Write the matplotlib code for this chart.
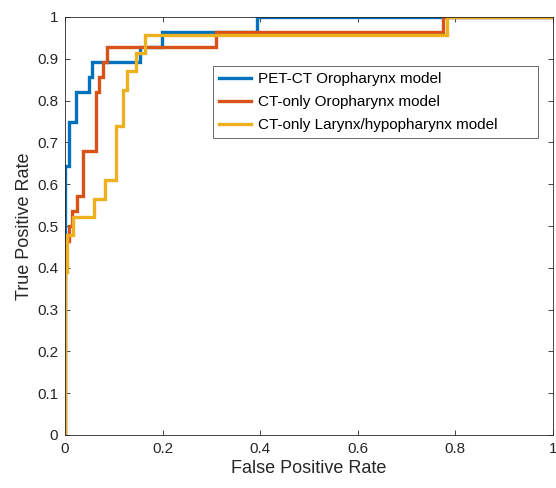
import matplotlib
matplotlib.use("Agg")
import matplotlib.pyplot as plt

plt.rcParams['font.family'] = ['Liberation Sans', 'DejaVu Sans']

series_names = ["PET-CT Oropharynx model", "CT-only Oropharynx model", "CT-only Larynx/hypopharynx model"]
colors = ["#0072BD", "#D95319", "#EDB120"]

# ROC step points (FPR, TPR)
pet_fpr = [0, 0, 0.008, 0.008, 0.022, 0.022, 0.050, 0.050, 0.056, 0.056, 0.154, 0.154, 0.198, 0.198, 0.393, 0.393, 1.0]
pet_tpr = [0, 0.643, 0.643, 0.750, 0.750, 0.821, 0.821, 0.857, 0.857, 0.893, 0.893, 0.929, 0.929, 0.964, 0.964, 1.0, 1.0]

ct_oro_fpr = [0, 0, 0.008, 0.008, 0.015, 0.015, 0.025, 0.025, 0.037, 0.037, 0.063, 0.063, 0.070, 0.070,
              0.0785, 0.0785, 0.0855, 0.0855, 0.309, 0.309, 0.775, 0.775, 1.0]
ct_oro_tpr = [0, 0.464, 0.464, 0.500, 0.500, 0.536, 0.536, 0.571, 0.571, 0.679, 0.679, 0.821, 0.821, 0.857,
              0.857, 0.893, 0.893, 0.929, 0.929, 0.964, 0.964, 1.0, 1.0]

ct_lar_fpr = [0, 0, 0.004, 0.004, 0.017, 0.017, 0.060, 0.060, 0.082, 0.082, 0.105, 0.105, 0.118, 0.118,
              0.128, 0.128, 0.146, 0.146, 0.164, 0.164, 0.782, 0.782, 1.0]
ct_lar_tpr = [0, 0.391, 0.391, 0.478, 0.478, 0.522, 0.522, 0.565, 0.565, 0.609, 0.609, 0.739, 0.739, 0.826,
              0.826, 0.870, 0.870, 0.913, 0.913, 0.957, 0.957, 1.0, 1.0]

x_ticks = [0, 0.2, 0.4, 0.6, 0.8, 1]
x_tick_labels = ["0", "0.2", "0.4", "0.6", "0.8", "1"]
y_ticks = [0, 0.1, 0.2, 0.3, 0.4, 0.5, 0.6, 0.7, 0.8, 0.9, 1]
y_tick_labels = ["0", "0.1", "0.2", "0.3", "0.4", "0.5", "0.6", "0.7", "0.8", "0.9", "1"]

fig = plt.figure(figsize=(5.56, 4.88), dpi=100)
ax = fig.add_axes([65/556, 1-435/488, 488/556, 418/488])

for fx, ty, c, n in zip([pet_fpr, ct_oro_fpr, ct_lar_fpr], [pet_tpr, ct_oro_tpr, ct_lar_tpr], colors, series_names):
    ax.plot(fx, ty, color=c, lw=2.4, label=n, solid_joinstyle='miter')

ax.set_xlim(0, 1)
ax.set_ylim(0, 1)
ax.set_xticks(x_ticks)
ax.set_xticklabels(x_tick_labels)
ax.set_yticks(y_ticks)
ax.set_yticklabels(y_tick_labels)
ax.tick_params(direction='in', top=True, right=True, length=3.5, width=0.6, colors='#262626', labelsize=11, pad=5)
for s in ax.spines.values():
    s.set_color('#262626')
    s.set_linewidth(0.6)
ax.set_xlabel("False Positive Rate", fontsize=13, color='#262626', labelpad=3)
ax.set_ylabel("True Positive Rate", fontsize=13, color='#262626', labelpad=3)

leg = ax.legend(loc='upper left', bbox_to_anchor=(0.303, 0.0, 0.666, 0.883), mode='expand', fontsize=11,
                frameon=True, fancybox=False, edgecolor='#262626', handlelength=2.1, borderpad=0.4,
                labelspacing=0.6, handletextpad=0.45, borderaxespad=0)
leg.get_frame().set_linewidth(0.6)

fig.savefig("out.png", dpi=100)
